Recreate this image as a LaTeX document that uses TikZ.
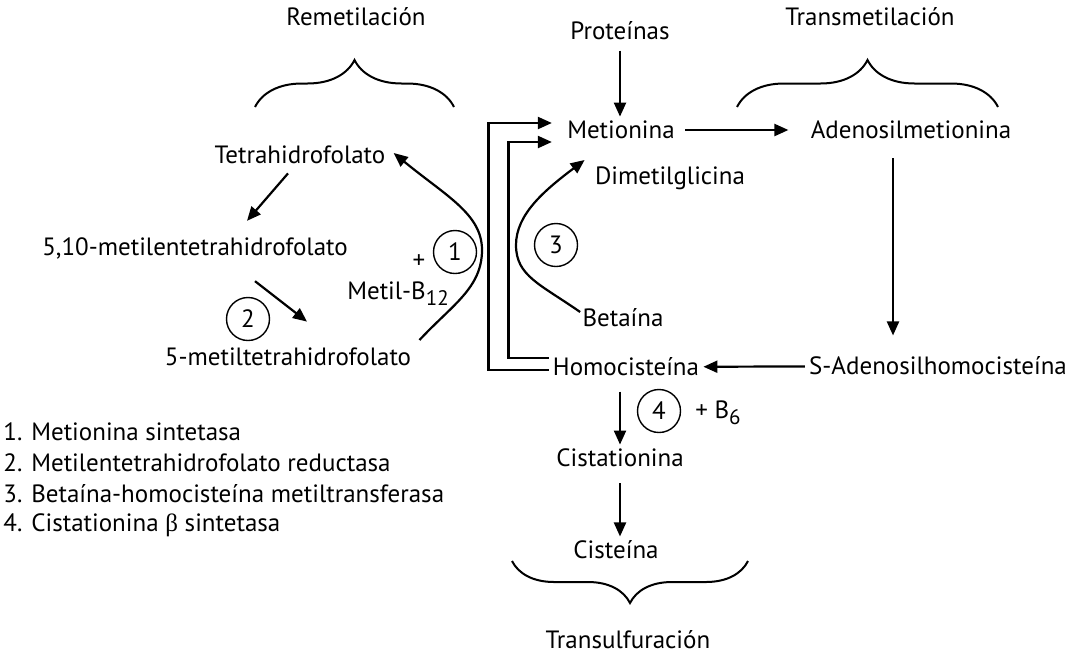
\documentclass[tikz,border=0pt]{standalone}
\usepackage{fontspec}
\setmainfont{PT Sans}
\newfontfamily\symfont{Liberation Serif}
\usetikzlibrary{arrows.meta,decorations.pathreplacing}
\newcommand\lowsub[1]{\raisebox{-0.5ex}{\fontsize{10.5}{12}\selectfont #1}}
\tikzset{
  arr/.style={-{Triangle[length=7pt,width=6pt]}, line width=1.1pt},
  enz/.style={draw, circle, line width=0.7pt, minimum size=21.5pt, inner sep=0pt},
  bracetop/.style={decorate, decoration={brace, amplitude=23.5pt}, line width=1pt},
}

\begin{document}
\begin{tikzpicture}[x=0.5pt, y=-0.5pt, every node/.style={font=\fontsize{12.5}{15}\selectfont, inner sep=2pt}]
        \useasboundingbox (0,0) rectangle (1070,654);

        % headings and their braces
        \node (remet) at (356,17) {Remetilación};
        \node (transm) at (870,17) {Transmetilación};
        \node (transs) at (628,640) {Transulfuración};
        \draw[bracetop] (255,107) -- (454,107);
        \draw[bracetop] (737,107) -- (998,107);
        \draw[decorate, decoration={brace, amplitude=21pt}, line width=1pt] (748,561) -- (512,561);

        % metabolites
        \node (prot) at (620,31) {Proteínas};
        \node (met) at (621,130) {Metionina};
        \node (adomet) at (911,130) {Adenosilmetionina};
        \node (dmg) at (670,178) {Dimetilglicina};
        \node (bet) at (623,318) {Betaína};
        \node (hcy) at (626,367) {Homocisteína};
        \node (sah) at (938,366) {S-Adenosilhomocisteína};
        \node (cysta) at (620,458) {Cistationina};
        \node (cys) at (616,550) {Cisteína};
        \node (thf) at (300,155) {Tetrahidrofolato};
        \node (mthf) at (195,248) {5,10-metilentetrahidrofolato};
        \node (m5) at (288,357) {5-metiltetrahidrofolato};

        % enzymes and cofactors
        \node[enz] (e1) at (455,252) {1};
        \node[enz] (e2) at (248,319) {2};
        \node[enz] (e3) at (556,245) {3};
        \node[enz] (e4) at (659,411) {4};
        \node (plus) at (419,262) {+};
        \node (b12) at (398,294) {Metil-B\lowsub{12}};
        \node (b6) at (718,413) {+ B\lowsub{6}};

        % transmethylation cycle
        \draw[arr, shorten <=3pt] (prot) -- (met.north -| prot);
        \draw[arr, shorten <=3pt, shorten >=9pt] (met) -- (adomet);
        \draw[arr, shorten <=7.5pt, shorten >=8.5pt] ([xshift=-9pt]adomet.south) -- ([xshift=-9pt]adomet.south |- sah.north);
        \draw[arr] (sah) -- (hcy);

        % transsulfuration
        \draw[arr, shorten <=5.5pt] (hcy.south -| cysta.north) -- (cysta.north);
        \draw[arr, shorten <=6pt] (cysta.south) -- (cys.north -| cysta.south);

        % remethylation
        \draw[arr] ([shift={(-12,5)}]thf.south) -- ([shift={(52,-12)}]mthf.north);
        \draw[arr] ([shift={(60,18)}]mthf.south) -- ([shift={(19,-22)}]m5.north);
        \draw[arr] ([shift={(4,-17)}]m5.east) .. controls (452,305) and (482,288) .. (482,250)
          .. controls (482,214) and (446,196) .. ([shift={(4,-2)}]thf.east);
        \draw[arr] ([shift={(2,-6)}]bet.west) .. controls (540,284) and (516,276) .. (516,245)
          .. controls (516,214) and (545,190) .. ([shift={(-6,-18)}]dmg.west);

        % homocysteine back to methionine
        \draw[arr] ([shift={(0,3)}]hcy.west) -- ++(-60,0) |- ([shift={(-11,-7)}]met.west);
        \draw[arr] ([shift={(0,-9)}]hcy.west) -- ++(-40,0) |- ([shift={(-11,12)}]met.west);

        % legend
        \foreach \txt [count=\k] in {1. Metionina sintetasa, 2. Metilentetrahidrofolato reductasa,
            3. Betaína-homocisteína metiltransferasa, 4. Cistationina {\symfont β} sintetasa} {
          \node[anchor=west] (leg\k) at (-1,401+31*\k) {\txt};
        }
      \end{tikzpicture}
\end{document}
